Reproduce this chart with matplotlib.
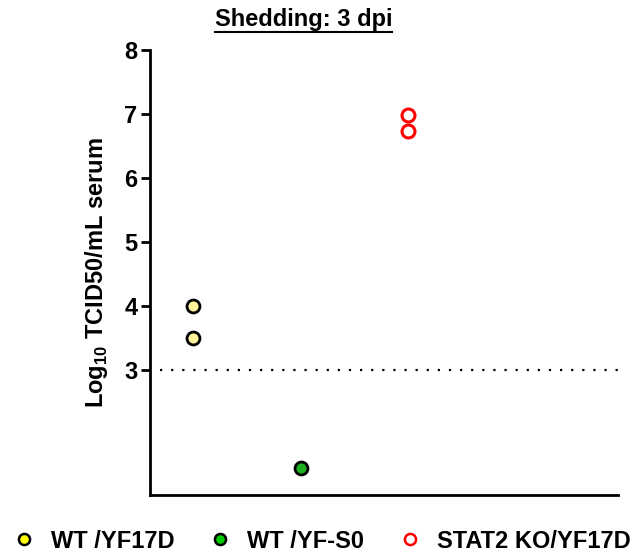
import matplotlib
matplotlib.use('Agg')
import matplotlib.pyplot as plt
from matplotlib.lines import Line2D

plt.rcParams['font.family'] = ['Liberation Sans', 'DejaVu Sans']
plt.rcParams['font.weight'] = 'bold'

# data
groups = ['WT /YF17D', 'WT /YF-S0', 'STAT2 KO/YF17D']
wt_yf17d = [4.0, 3.5]
wt_yfs0 = [1.48]
ko_yf17d = [6.98, 6.73]
yticks = [3, 4, 5, 6, 7, 8]
lod = 3.0

fig = plt.figure(figsize=(6.43, 5.55), dpi=100)
ax = fig.add_axes([0.234, 0.108, 0.727, 0.802])

h1, = ax.plot([0] * len(wt_yf17d), wt_yf17d, 'o', ms=9.3, mfc='#fff59a', mec='black', mew=2,
              label=groups[0], clip_on=False)
h2, = ax.plot([1] * len(wt_yfs0), wt_yfs0, 'o', ms=9.3, mfc='#1fb01f', mec='black', mew=2,
              label=groups[1], clip_on=False)
h3, = ax.plot([2] * len(ko_yf17d), ko_yf17d, 'o', ms=9.3, mfc='white', mec='#ff0000', mew=2.2,
              label=groups[2], clip_on=False)

ax.axhline(lod, xmin=0.02, xmax=1.0, color='black', lw=1.6, dashes=(1, 4))

ax.set_xlim(-0.4, 3.96)
ax.set_ylim(1.05, 8)
ax.set_yticks(yticks)
ax.set_xticks([])
for s in ['top', 'right']:
    ax.spines[s].set_visible(False)
for s in ['left', 'bottom']:
    ax.spines[s].set_linewidth(2)
ax.tick_params(axis='y', width=2, length=6.5, labelsize=17, pad=3)
for t in ax.get_yticklabels():
    t.set_fontweight('bold')

ax.set_ylabel('Log$_{\\mathregular{10}}$ TCID50/mL serum', fontsize=17, fontweight='bold',
              labelpad=10)

title = fig.text(0.472, 0.953, 'Shedding: 3 dpi', ha='center', va='baseline', fontsize=17,
                 fontweight='bold')

# legend markers a little more saturated than the data points
lh = [Line2D([], [], ls='none', marker='o', ms=8, mfc='#ffff00', mec='black', mew=1.8),
      Line2D([], [], ls='none', marker='o', ms=8, mfc='#00cc00', mec='black', mew=1.8),
      Line2D([], [], ls='none', marker='o', ms=8, mfc='white', mec='#ff0000', mew=1.8)]
fig.legend(handles=lh, labels=groups, loc='center left', bbox_to_anchor=(12 / 643, 0.025), ncol=3,
           frameon=False, fontsize=17, handlelength=1.0, borderpad=0,
           handletextpad=0.64, columnspacing=1.45, borderaxespad=0)

fig.canvas.draw()
bb = title.get_window_extent().transformed(fig.transFigure.inverted())
fig.add_artist(Line2D([bb.x0, bb.x1], [0.942, 0.942], color='black', lw=1.5,
                      transform=fig.transFigure))

fig.savefig('out.png', dpi=100)
